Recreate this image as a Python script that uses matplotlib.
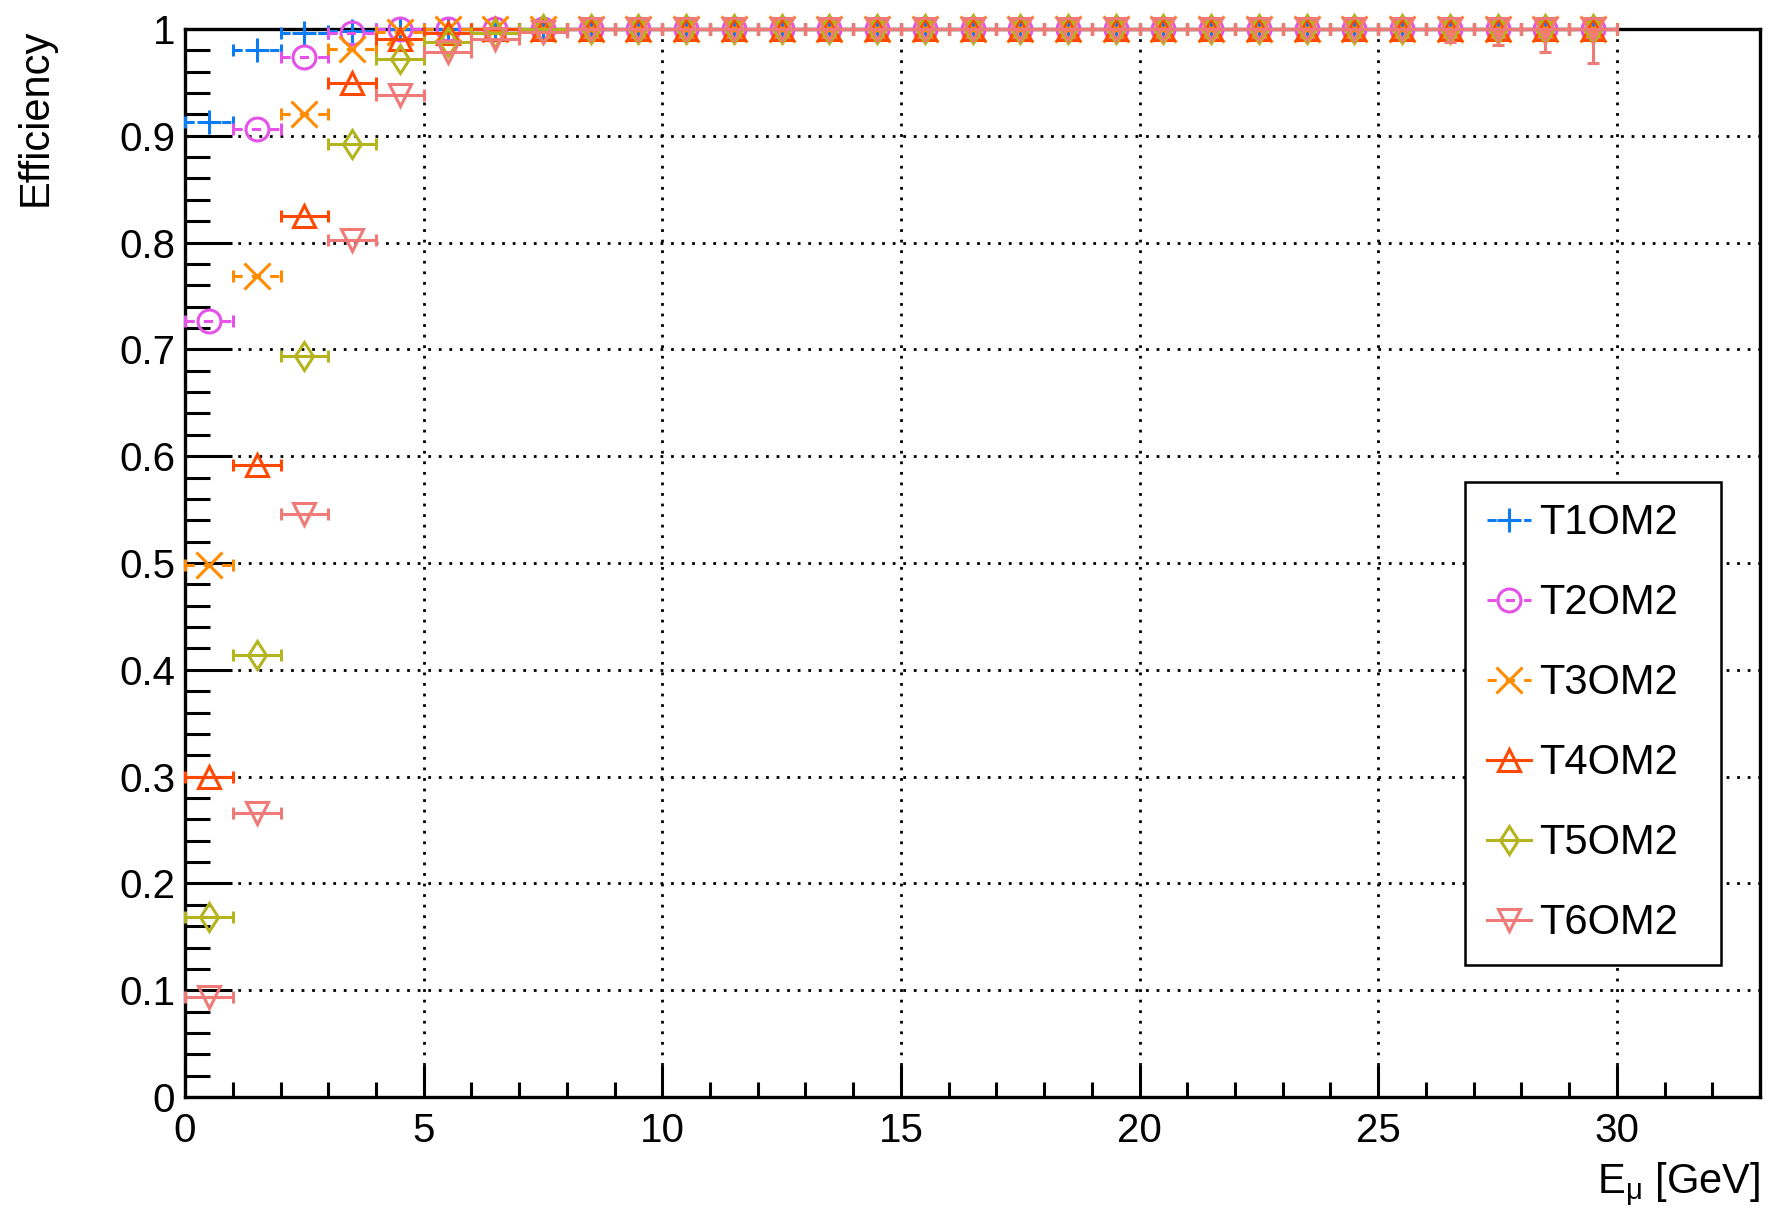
import matplotlib
matplotlib.use("Agg")
import matplotlib.pyplot as plt
from matplotlib.lines import Line2D
from matplotlib.ticker import MultipleLocator, FormatStrFormatter
import numpy as np

plt.rcParams['font.family'] = ['Liberation Sans', 'DejaVu Sans']
plt.rcParams['mathtext.fontset'] = 'custom'
plt.rcParams['mathtext.rm'] = 'Liberation Sans'

# muon energy bins [GeV], 1 GeV wide
e_centers = np.arange(0.5, 30.0, 1.0)
e_halfwidth = 0.5

labels = ['T1OM2', 'T2OM2', 'T3OM2', 'T4OM2', 'T5OM2', 'T6OM2']

eff_t1 = [0.913, 0.980, 0.996, 0.998, 1.0, 1.0, 1.0, 1.0, 1.0, 1.0,
          1.0, 1.0, 1.0, 1.0, 1.0, 1.0, 1.0, 1.0, 1.0, 1.0,
          1.0, 1.0, 1.0, 1.0, 1.0, 1.0, 1.0, 1.0, 1.0, 1.0]
eff_t2 = [0.727, 0.906, 0.974, 0.996, 1.0, 1.0, 1.0, 1.0, 1.0, 1.0,
          1.0, 1.0, 1.0, 1.0, 1.0, 1.0, 1.0, 1.0, 1.0, 1.0,
          1.0, 1.0, 1.0, 1.0, 1.0, 1.0, 1.0, 1.0, 1.0, 1.0]
eff_t3 = [0.498, 0.769, 0.920, 0.981, 0.997, 1.0, 1.0, 1.0, 1.0, 1.0,
          1.0, 1.0, 1.0, 1.0, 1.0, 1.0, 1.0, 1.0, 1.0, 1.0,
          1.0, 1.0, 1.0, 1.0, 1.0, 1.0, 1.0, 1.0, 1.0, 1.0]
eff_t4 = [0.300, 0.592, 0.825, 0.949, 0.991, 0.996, 1.0, 1.0, 1.0, 1.0,
          1.0, 1.0, 1.0, 1.0, 1.0, 1.0, 1.0, 1.0, 1.0, 1.0,
          1.0, 1.0, 1.0, 1.0, 1.0, 1.0, 1.0, 1.0, 1.0, 1.0]
eff_t5 = [0.169, 0.414, 0.694, 0.892, 0.972, 0.988, 0.996, 1.0, 1.0, 1.0,
          1.0, 1.0, 1.0, 1.0, 1.0, 1.0, 1.0, 1.0, 1.0, 1.0,
          1.0, 1.0, 1.0, 1.0, 1.0, 1.0, 1.0, 1.0, 1.0, 1.0]
eff_t6 = [0.094, 0.266, 0.546, 0.802, 0.938, 0.978, 0.991, 0.997, 1.0, 1.0,
          1.0, 1.0, 1.0, 1.0, 1.0, 1.0, 1.0, 1.0, 1.0, 1.0,
          1.0, 1.0, 1.0, 1.0, 1.0, 1.0, 1.0, 1.0, 1.0, 1.0]
# lower error on T6 (only visible in the last, low-statistics bins)
err_lo_t6 = [0.0, 0.0, 0.0, 0.0, 0.0, 0.0, 0.0, 0.0, 0.0, 0.0,
             0.0, 0.0, 0.0, 0.0, 0.0, 0.0, 0.0, 0.0, 0.0, 0.0,
             0.0, 0.0, 0.0, 0.0, 0.0, 0.0, 0.012, 0.015, 0.022, 0.032]

effs = [eff_t1, eff_t2, eff_t3, eff_t4, eff_t5, eff_t6]
colors = ['#0b7cf4', '#e452e8', '#ff8c00', '#ff4800', '#b4b41e', '#f07a78']
markers = ['+', 'o', 'x', '^', 'd', 'v']
msizes = [17, 16.5, 19, 16.5, 14.5, 16.5]
lstyles = [(0, (3, 3)), (0, (3, 3)), (0, (3, 3)), '-', '-', '-']

fig = plt.figure(figsize=(17.66, 12.07), dpi=100)
ax = fig.add_axes([0.1048, 0.0911, 0.8918, 0.8849])

lw = 2.2
for i in range(6):
    yerr = None
    if i == 5:
        yerr = [err_lo_t6, [0.0] * len(err_lo_t6)]
    eb = ax.errorbar(e_centers, effs[i], xerr=e_halfwidth, yerr=yerr,
                     fmt=markers[i], color=colors[i], ms=msizes[i],
                     mfc='none', mew=lw, elinewidth=lw, capsize=4,
                     capthick=lw, zorder=3 + i, clip_on=False)
    for lc in eb[2]:
        lc.set_linestyle(lstyles[i])
        lc.set_clip_on(False)
    for cap in eb[1]:
        cap.set_clip_on(False)

ax.set_xlim(0, 33)
ax.set_ylim(0, 1)

ax.xaxis.set_major_locator(MultipleLocator(5))
ax.xaxis.set_minor_locator(MultipleLocator(1))
ax.yaxis.set_major_locator(MultipleLocator(0.1))
ax.yaxis.set_minor_locator(MultipleLocator(0.02))
ax.yaxis.set_major_formatter(FormatStrFormatter('%g'))

ax.tick_params(axis='both', which='both', direction='in', width=2.2,
               top=False, right=False, labelsize=29)
ax.tick_params(axis='y', which='major', length=34, pad=7)
ax.tick_params(axis='y', which='minor', length=18)
ax.tick_params(axis='x', which='major', length=23, pad=11)
ax.tick_params(axis='x', which='minor', length=11)

for sp in ax.spines.values():
    sp.set_linewidth(2.4)

ax.grid(True, which='major', color='black', linestyle=(0, (1, 2.8)),
        linewidth=2.0, zorder=1)
ax.set_axisbelow(True)

ax.set_xlabel(r'E$_{\mathregular{\mu}}$ [GeV]', fontsize=30, loc='right')
ax.xaxis.set_label_coords(1.0, -0.060)
ax.set_ylabel('Efficiency', fontsize=30, loc='top')
ax.yaxis.set_label_coords(-0.082, 1.0)

handles = []
for i in range(6):
    handles.append(Line2D([], [], color=colors[i], marker=markers[i],
                          ms=msizes[i], mfc='none', mew=lw, lw=lw,
                          linestyle=lstyles[i]))
leg = ax.legend(handles, labels, loc='upper left',
                bbox_to_anchor=(0.813, 0.126, 0.162, 0.45), mode='expand',
                borderaxespad=0.0, fontsize=30, handlelength=1.05,
                handletextpad=0.2, labelspacing=0.96, borderpad=0.52,
                fancybox=False, framealpha=1.0, edgecolor='black')
leg.get_frame().set_linewidth(1.8)
leg.set_zorder(20)

plt.savefig('out.png', dpi=100)
